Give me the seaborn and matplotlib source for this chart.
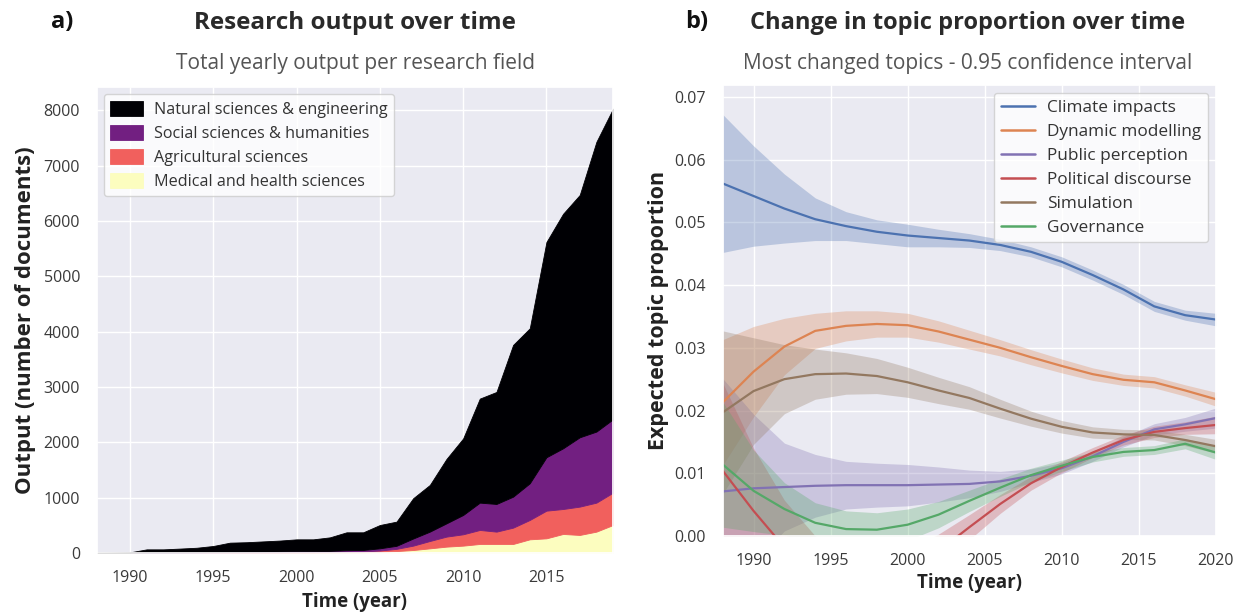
import numpy as np
import matplotlib
matplotlib.use("Agg")
import matplotlib.pyplot as plt
import seaborn as sns

# ---------------- Panel a) data ----------------
years_a = list(range(1988, 2020))
natural = [7, 8, 8, 56, 56, 68, 81, 109, 165, 171, 184, 197, 215, 215, 245, 324,
           319, 421, 437, 728, 844, 1164, 1383, 1880, 2024, 2742, 2800, 3890,
           4238, 4379, 5236, 5613]
social = [1, 2, 2, 6, 6, 7, 8, 11, 13, 14, 15, 16, 18, 17, 20, 26,
          27, 40, 55, 129, 169, 240, 349, 494, 500, 560, 663, 965,
          1097, 1253, 1284, 1326]
agricultural = [0, 0, 1, 2, 2, 3, 3, 4, 5, 6, 6, 7, 8, 9, 10, 14,
                16, 25, 40, 79, 133, 181, 205, 253, 223, 295, 350, 500,
                451, 512, 524, 585]
medical = [0, 0, 1, 2, 2, 2, 3, 3, 4, 4, 5, 5, 6, 6, 8, 10,
           12, 20, 35, 54, 84, 115, 133, 163, 163, 163, 247, 265,
           344, 326, 386, 506]
fields = ["Natural sciences & engineering", "Social sciences & humanities",
          "Agricultural sciences", "Medical and health sciences"]
yticks_a = [0, 1000, 2000, 3000, 4000, 5000, 6000, 7000, 8000]
xticks_a = [1990, 1995, 2000, 2005, 2010, 2015]

# ---------------- Panel b) data ----------------
years_b = list(range(1988, 2021, 2))
topics = ["Climate impacts", "Dynamic modelling", "Public perception",
          "Political discourse", "Simulation", "Governance"]
climate_mean = [0.0562, 0.0542, 0.0522, 0.0505, 0.0494, 0.0485, 0.0479, 0.0475, 0.0471,
                0.0464, 0.0453, 0.0437, 0.0416, 0.0393, 0.0366, 0.0352, 0.0345]
climate_hw = [0.0110, 0.0080, 0.0055, 0.0034, 0.0023, 0.0019, 0.0018, 0.0014, 0.0011,
              0.0009, 0.0008, 0.0008, 0.0008, 0.0008, 0.0008, 0.0008, 0.0010]
dynamic_mean = [0.0213, 0.0262, 0.0302, 0.0327, 0.0335, 0.0338, 0.0336, 0.0326, 0.0313,
                0.0300, 0.0285, 0.0271, 0.0258, 0.0249, 0.0245, 0.0232, 0.0218]
dynamic_hw = [0.0100, 0.0072, 0.0045, 0.0028, 0.0024, 0.0021, 0.0019, 0.0017, 0.0015,
              0.0013, 0.0012, 0.0011, 0.0010, 0.0009, 0.0009, 0.0009, 0.0011]
public_mean = [0.0071, 0.0076, 0.0078, 0.0080, 0.0081, 0.0081, 0.0081, 0.0082, 0.0083,
               0.0087, 0.0096, 0.0108, 0.0127, 0.0150, 0.0170, 0.0178, 0.0188]
public_hw = [0.0180, 0.0118, 0.0070, 0.0050, 0.0038, 0.0035, 0.0033, 0.0028, 0.0022,
             0.0016, 0.0011, 0.0009, 0.0008, 0.0008, 0.0009, 0.0011, 0.0016]
political_mean = [0.0104, 0.0040, -0.0018, -0.0055, -0.0072, -0.0075, -0.0058, -0.0024, 0.0014,
                  0.0051, 0.0084, 0.0110, 0.0133, 0.0153, 0.0166, 0.0172, 0.0177]
political_hw = [0.0140, 0.0100, 0.0075, 0.0055, 0.0045, 0.0040, 0.0035, 0.0027, 0.0020,
                0.0015, 0.0011, 0.0009, 0.0008, 0.0008, 0.0009, 0.0010, 0.0014]
simulation_mean = [0.0197, 0.0231, 0.0250, 0.0258, 0.0259, 0.0255, 0.0245, 0.0232, 0.0220,
                   0.0203, 0.0187, 0.0174, 0.0165, 0.0162, 0.0161, 0.0153, 0.0143]
simulation_hw = [0.0130, 0.0085, 0.0055, 0.0040, 0.0033, 0.0028, 0.0024, 0.0021, 0.0018,
                 0.0015, 0.0012, 0.0010, 0.0009, 0.0008, 0.0008, 0.0009, 0.0011]
governance_mean = [0.0114, 0.0072, 0.0043, 0.0021, 0.0011, 0.0010, 0.0018, 0.0034, 0.0056,
                   0.0077, 0.0097, 0.0112, 0.0126, 0.0134, 0.0137, 0.0147, 0.0133]
governance_hw = [0.0100, 0.0065, 0.0042, 0.0032, 0.0029, 0.0027, 0.0025, 0.0021, 0.0017,
                 0.0014, 0.0011, 0.0009, 0.0008, 0.0007, 0.0007, 0.0008, 0.0011]
yticks_b = [0.00, 0.01, 0.02, 0.03, 0.04, 0.05, 0.06, 0.07]
xticks_b = [1990, 1995, 2000, 2005, 2010, 2015, 2020]

# ---------------- Styling ----------------
sns.set_theme(style="darkgrid")
plt.rcParams['font.family'] = ['Open Sans', 'DejaVu Sans']
TICK_C = '#3a3a3a'

fig = plt.figure(figsize=(12.35, 6.15), dpi=100)
ax1 = fig.add_axes([0.0783, 0.1008, 0.4181, 0.7577])
ax2 = fig.add_axes([0.5852, 0.1285, 0.3994, 0.7333])

# ---------------- Panel a ----------------
magma = plt.get_cmap('magma')
cols_a = [magma(v) for v in np.linspace(0, 1, 4)]  # natural, social, agri, medical
ax1.stackplot(years_a, medical, agricultural, social, natural,
              colors=[cols_a[3], cols_a[2], cols_a[1], cols_a[0]],
              labels=[fields[3], fields[2], fields[1], fields[0]],
              linewidth=0.6, edgecolor='face')
ax1.set_xlim(1988, 2019)
ax1.set_ylim(0, 8420)
ax1.set_yticks(yticks_a)
ax1.set_xticks(xticks_a)
ax1.tick_params(labelsize=11.5, labelcolor=TICK_C, pad=6)
h, l = ax1.get_legend_handles_labels()
leg1 = ax1.legend(h[::-1], l[::-1], loc='upper left', fontsize=11.6,
                  frameon=True, facecolor='white', framealpha=0.8,
                  handlelength=2.0, handleheight=1.1, handletextpad=0.7,
                  labelspacing=0.42, borderaxespad=0.45)
for t in leg1.get_texts():
    t.set_color('#333333')
ax1.set_xlabel("Time (year)", fontsize=13.5, fontweight='bold', color='#222222')
ax1.set_ylabel("Output (number of documents)", fontsize=16, fontweight='bold',
               color='#222222')
ax1.xaxis.set_label_coords(0.5, -0.083)
ax1.yaxis.set_label_coords(-0.118, 0.5)

# ---------------- Panel b ----------------
deep = sns.color_palette("deep")
cols_b = [deep[0], deep[1], deep[4], deep[3], deep[5], deep[2]]
means = [climate_mean, dynamic_mean, public_mean, political_mean, simulation_mean, governance_mean]
hws = [climate_hw, dynamic_hw, public_hw, political_hw, simulation_hw, governance_hw]
for name, m, hw, c in zip(topics, means, hws, cols_b):
    m = np.array(m)
    hw = np.array(hw)
    ax2.fill_between(years_b, m - hw, m + hw, color=c, alpha=0.3, linewidth=0)
    sns.lineplot(x=years_b, y=m, color=c, label=name, ax=ax2, linewidth=1.6)
ax2.set_xlim(1988, 2020)
ax2.set_ylim(0, 0.0719)
ax2.set_yticks(yticks_b)
ax2.set_yticklabels([f"{v:.2f}" for v in yticks_b])
ax2.set_xticks(xticks_b)
ax2.tick_params(labelsize=11.5, labelcolor=TICK_C, pad=6)
leg2 = ax2.legend(loc='upper right', fontsize=12.4, frameon=True, facecolor='white',
                  framealpha=0.8, handlelength=2.0, handletextpad=0.7,
                  labelspacing=0.46, borderaxespad=0.45)
for line in leg2.get_lines():
    line.set_linewidth(1.8)
for t in leg2.get_texts():
    t.set_color('#333333')
ax2.set_xlabel("Time (year)", fontsize=13.5, fontweight='bold', color='#222222')
ax2.set_ylabel("Expected topic proportion", fontsize=15.5, fontweight='bold',
               color='#222222')
ax2.xaxis.set_label_coords(0.5, -0.082)
ax2.yaxis.set_label_coords(-0.108, 0.5)

# ---------------- Titles ----------------
fig.text(62 / 1235, 1 - 22 / 615, "a)", fontsize=17, fontweight='bold',
         ha='center', va='center', color='#111111')
fig.text(355 / 1235, 1 - 23 / 615, "Research output over time", fontsize=17.5,
         fontweight='bold', ha='center', va='center', color='#2a2a2a')
fig.text(355 / 1235, 1 - 64 / 615, "Total yearly output per research field",
         fontsize=15, ha='center', va='center', color='#555555')
fig.text(697 / 1235, 1 - 22 / 615, "b)", fontsize=17, fontweight='bold',
         ha='center', va='center', color='#111111')
fig.text(968 / 1235, 1 - 23 / 615, "Change in topic proportion over time", fontsize=17,
         fontweight='bold', ha='center', va='center', color='#2a2a2a')
fig.text(968 / 1235, 1 - 64 / 615, "Most changed topics - 0.95 confidence interval",
         fontsize=15, ha='center', va='center', color='#555555')

fig.savefig("out.png", dpi=100)
